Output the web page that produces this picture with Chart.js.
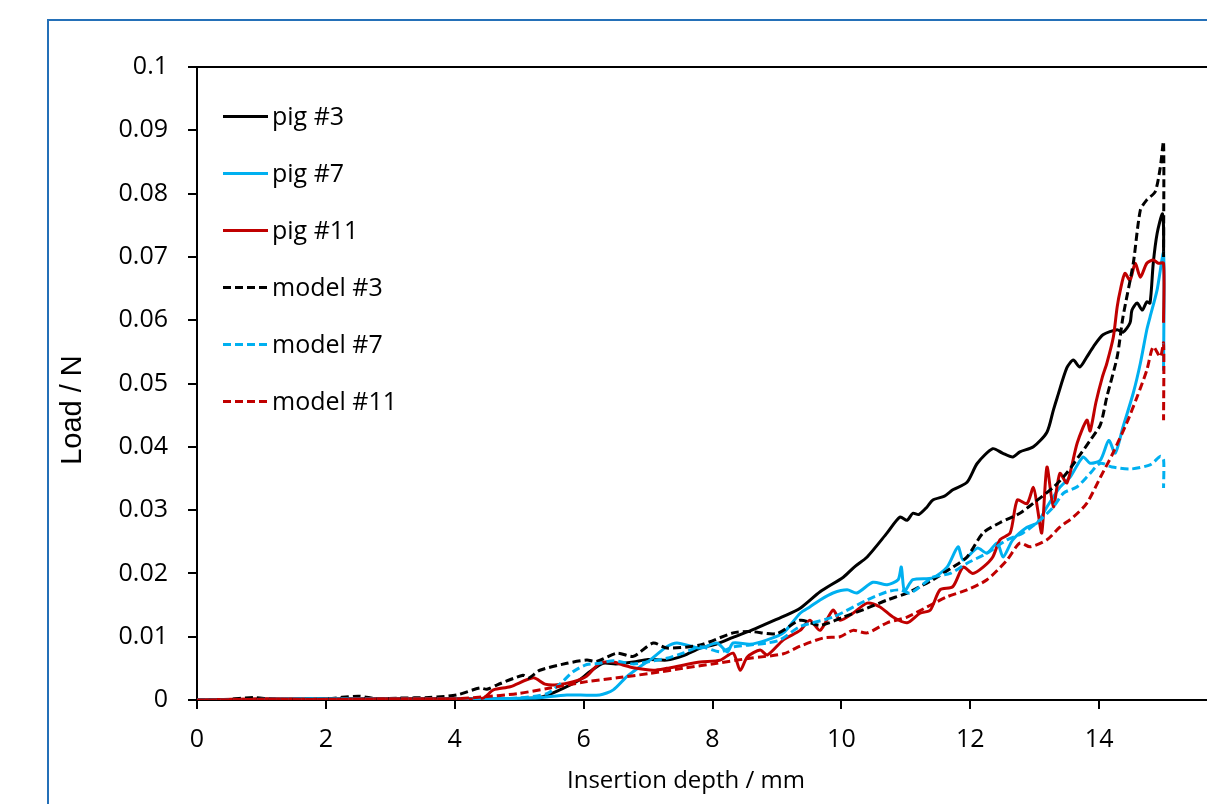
<!DOCTYPE html>
<html>
<head>
<meta charset="utf-8">
<script src="https://cdn.jsdelivr.net/npm/chart.js@4.4.1/dist/chart.umd.min.js"></script>
<style>
  html, body { margin: 0; padding: 0; background: #ffffff; overflow: hidden; width: 1207px; height: 804px; }
  #frame { position: absolute; left: 47px; top: 19px; width: 1400px; height: 1000px; border: 2px solid #2470B8; box-sizing: border-box; pointer-events: none; }
  #c { position: absolute; left: 0; top: 0; }
</style>
</head>
<body>
<div id="frame"></div>
<canvas id="c" width="1250" height="804"></canvas>
<script>
// ---- data (x = insertion depth / mm, y = load / N) ----
const seriesNames = ['pig #3', 'pig #7', 'pig #11', 'model #3', 'model #7', 'model #11'];

const pig3 = [[0,0],[1,0.0001],[2,0.0002],[3,0.0002],[4,0.0002],[4.8,0.0002],[5.32,0.0004],[5.63,0.0016],[5.94,0.0032],[6.1,0.0045],[6.3,0.0058],[6.5,0.0057],[6.77,0.006],[7.0,0.0064],[7.29,0.0063],[7.55,0.0070],[7.81,0.0082],[8.05,0.0088],[8.32,0.0099],[8.6,0.011],[8.85,0.0121],[9.1,0.0132],[9.36,0.0145],[9.67,0.0171],[10.03,0.0194],[10.2,0.021],[10.4,0.0226],[10.71,0.0264],[10.91,0.0289],[11.02,0.0284],[11.11,0.0295],[11.2,0.0293],[11.33,0.0305],[11.42,0.0316],[11.6,0.0322],[11.73,0.0332],[11.95,0.0344],[12.11,0.0374],[12.35,0.0397],[12.5,0.039],[12.66,0.0384],[12.77,0.0392],[12.98,0.040],[13.19,0.0423],[13.29,0.0458],[13.35,0.0478],[13.5,0.0525],[13.6,0.0537],[13.7,0.0526],[13.81,0.0542],[13.91,0.0558],[14.06,0.0577],[14.28,0.0585],[14.37,0.0581],[14.48,0.0596],[14.51,0.0616],[14.59,0.0627],[14.67,0.0616],[14.74,0.0629],[14.79,0.0627],[14.84,0.069],[14.9,0.0737],[14.98,0.0768],[15.0,0.0747],[15.0,0.0706]];

const pig7 = [[0,0],[1,0.0001],[2,0.0002],[3,0.0002],[4,0.0002],[5.2,0.0003],[5.74,0.0008],[6.25,0.0008],[6.46,0.0016],[6.67,0.0037],[6.88,0.0053],[7.03,0.0063],[7.29,0.0084],[7.45,0.009],[7.81,0.0082],[8.07,0.009],[8.23,0.0076],[8.32,0.009],[8.58,0.0088],[8.85,0.0095],[9.1,0.0106],[9.36,0.0137],[9.51,0.0147],[9.67,0.0158],[9.87,0.0169],[10.09,0.0174],[10.24,0.0169],[10.49,0.0186],[10.71,0.0182],[10.88,0.019],[10.93,0.021],[10.98,0.0172],[11.11,0.019],[11.42,0.0193],[11.64,0.021],[11.81,0.0242],[11.89,0.0221],[12.11,0.024],[12.26,0.0232],[12.42,0.0248],[12.51,0.0226],[12.66,0.0253],[12.88,0.0273],[13.04,0.028],[13.19,0.0305],[13.39,0.0336],[13.55,0.0352],[13.75,0.0384],[13.86,0.0374],[14.02,0.0379],[14.15,0.041],[14.25,0.039],[14.37,0.0431],[14.53,0.0485],[14.64,0.0532],[14.74,0.0585],[14.79,0.0605],[14.9,0.0648],[15.0,0.0706],[15.0,0.052]];

const pig11 = [[0,0],[1,0.0002],[2,0.0001],[3,0.0002],[4,0.0002],[4.44,0.0003],[4.6,0.0016],[4.86,0.0021],[5.22,0.0035],[5.4,0.0025],[5.59,0.0024],[5.84,0.0029],[6.05,0.0038],[6.25,0.0058],[6.46,0.006],[6.62,0.0055],[6.77,0.0051],[7.08,0.0047],[7.29,0.005],[7.54,0.0055],[7.81,0.006],[8.12,0.0063],[8.32,0.0074],[8.43,0.0047],[8.54,0.0068],[8.74,0.0079],[8.85,0.0071],[9.1,0.0095],[9.36,0.011],[9.51,0.0126],[9.67,0.011],[9.87,0.0142],[9.98,0.0126],[10.18,0.0137],[10.4,0.0153],[10.6,0.0147],[10.8,0.0131],[11.02,0.0122],[11.22,0.0137],[11.38,0.0142],[11.53,0.0174],[11.73,0.0179],[11.89,0.021],[12.04,0.02],[12.2,0.021],[12.35,0.0226],[12.46,0.0253],[12.62,0.0264],[12.73,0.0316],[12.88,0.031],[12.98,0.0336],[13.04,0.0305],[13.11,0.0264],[13.19,0.0368],[13.29,0.0305],[13.39,0.0358],[13.5,0.0343],[13.66,0.0406],[13.81,0.0442],[13.86,0.0425],[13.95,0.047],[14.05,0.051],[14.12,0.0532],[14.22,0.0573],[14.28,0.0621],[14.33,0.0648],[14.4,0.0674],[14.48,0.0663],[14.56,0.069],[14.64,0.0668],[14.74,0.069],[14.84,0.0695],[14.92,0.069],[15.0,0.069],[15.0,0.0596]];

const model3 = [[0,0],[0.5,0.0001],[0.87,0.0004],[1.2,0.0001],[2,0.0002],[2.5,0.0006],[2.8,0.0002],[3.15,0.0003],[3.6,0.0004],[4.03,0.0008],[4.39,0.0019],[4.5,0.0017],[4.66,0.0024],[5.06,0.0039],[5.15,0.0035],[5.32,0.0047],[5.74,0.0058],[6.05,0.0063],[6.2,0.0061],[6.52,0.0074],[6.77,0.0069],[7.08,0.009],[7.29,0.0082],[7.81,0.0087],[8.32,0.0106],[8.6,0.0108],[9.0,0.0105],[9.36,0.0126],[9.67,0.0118],[10.03,0.0131],[10.4,0.0145],[10.71,0.0158],[11.02,0.0169],[11.42,0.019],[11.73,0.021],[11.95,0.0226],[12.2,0.0264],[12.46,0.028],[12.77,0.0295],[12.98,0.0311],[13.29,0.0336],[13.5,0.0359],[13.7,0.0387],[13.86,0.041],[14.02,0.0435],[14.12,0.0479],[14.28,0.0542],[14.37,0.0605],[14.53,0.069],[14.64,0.0774],[14.74,0.079],[14.87,0.0803],[14.95,0.0842],[15.0,0.0882],[15.0,0.070]];

const model7 = [[0,0],[1,0.0001],[2,0.0002],[3,0.0002],[4,0.0002],[4.97,0.0003],[5.43,0.001],[5.63,0.0025],[5.84,0.0045],[6.05,0.0056],[6.25,0.0058],[6.46,0.0062],[6.77,0.0057],[6.98,0.006],[7.29,0.0066],[7.54,0.0074],[7.81,0.0084],[8.12,0.0076],[8.32,0.0084],[8.58,0.0087],[8.85,0.009],[9.05,0.0095],[9.36,0.0116],[9.87,0.0131],[10.4,0.0158],[10.71,0.0171],[10.91,0.0174],[11.07,0.0169],[11.42,0.0194],[11.69,0.02],[11.95,0.0216],[12.26,0.0232],[12.57,0.0253],[12.82,0.0264],[13.08,0.0284],[13.29,0.0305],[13.45,0.0327],[13.66,0.0337],[13.86,0.0358],[14.02,0.0374],[14.2,0.0368],[14.5,0.0365],[14.8,0.0372],[14.95,0.0385],[15.0,0.038],[15.0,0.0335]];

const model11 = [[0,0],[1,0.0001],[2,0.0001],[3,0.0002],[4,0.0002],[4.44,0.0005],[4.97,0.001],[5.48,0.0019],[6.05,0.0029],[6.52,0.0035],[7.03,0.0042],[7.54,0.005],[8.07,0.0058],[8.58,0.0066],[9.1,0.0073],[9.36,0.0085],[9.72,0.0098],[9.98,0.01],[10.18,0.011],[10.4,0.0106],[10.71,0.0122],[11.02,0.0131],[11.33,0.0147],[11.64,0.0163],[11.95,0.0174],[12.26,0.019],[12.57,0.0221],[12.77,0.0248],[12.93,0.0242],[13.19,0.0253],[13.39,0.0273],[13.6,0.0289],[13.81,0.0311],[14.02,0.0352],[14.2,0.0387],[14.43,0.0438],[14.59,0.0479],[14.74,0.0521],[14.84,0.0558],[14.95,0.0542],[15.0,0.0564],[15.0,0.0442]];

const seriesData = [pig3, pig7, pig11, model3, model7, model11];
const seriesColors = ['#000000', '#00B0F0', '#C00000', '#000000', '#00B0F0', '#C00000'];
const seriesDashed = [false, false, false, true, true, true];

const xAxisTitle = 'Insertion depth / mm';
const yAxisTitle = 'Load / N';
const xRange = [0, 16, 2];
const xLabelMax = 14;   // last labelled x tick that is inside the visible picture
const yRange = [0, 0.1, 0.01];

// ---- styling ----
const FONT = '"Open Sans", "Noto Sans", sans-serif';
const DASH = [8, 4];

const datasets = seriesData.map((pts, i) => ({
  label: seriesNames[i],
  data: pts.map(p => ({ x: p[0], y: p[1] })),
  borderColor: seriesColors[i],
  backgroundColor: seriesColors[i],
  borderWidth: 3,
  borderDash: seriesDashed[i] ? DASH : [],
  pointRadius: 0,
  tension: 0.25,
  fill: false,
  order: seriesData.length - 1 - i
}));

const framePlugin = {
  id: 'framePlugin',
  afterDatasetsDraw(chart) {
    const { ctx, chartArea: a } = chart;
    ctx.save();
    ctx.strokeStyle = '#000';
    ctx.lineWidth = 2;
    ctx.beginPath();
    ctx.moveTo(a.left, a.top);
    ctx.lineTo(a.right, a.top);
    ctx.lineTo(a.right, a.bottom);
    ctx.stroke();
    ctx.restore();
  },
  afterDraw(chart) {
    const { ctx, chartArea: a } = chart;
    ctx.save();
    // legend (inside plot area)
    const x0 = a.left + 26, x1 = a.left + 71, tx = a.left + 75;
    ctx.font = '25px ' + FONT;
    ctx.textBaseline = 'middle';
    ctx.textAlign = 'left';
    chart.data.datasets.forEach((ds, i) => {
      const y = a.top + 49.5 + i * 57;
      ctx.beginPath();
      ctx.strokeStyle = ds.borderColor;
      ctx.lineWidth = 3;
      ctx.setLineDash(ds.borderDash || []);
      ctx.moveTo(x0, y);
      ctx.lineTo(x1, y);
      ctx.stroke();
      ctx.setLineDash([]);
      ctx.fillStyle = '#000';
      ctx.fillText(ds.label, tx, y + 1);
    });
    // axis titles
    ctx.fillStyle = '#000';
    ctx.font = '24px ' + FONT;
    ctx.textAlign = 'center';
    ctx.textBaseline = 'middle';
    ctx.fillText(xAxisTitle, 686, 781);
    ctx.save();
    ctx.translate(73, 410);
    ctx.rotate(-Math.PI / 2);
    ctx.font = '29px "Liberation Sans", Arial, sans-serif';
    ctx.fillText(yAxisTitle, 0, 0);
    ctx.restore();
    ctx.restore();
  }
};

new Chart(document.getElementById('c'), {
  type: 'line',
  data: { datasets },
  options: {
    responsive: false,
    animation: false,
    events: [],
    layout: { padding: { left: 0, top: 67, right: 22, bottom: 0 } },
    plugins: { legend: { display: false }, tooltip: { enabled: false }, title: { display: false } },
    scales: {
      x: {
        type: 'linear',
        min: xRange[0], max: xRange[1],
        afterFit(s) { s.height = 104; s.paddingRight = 0; },
        ticks: {
          stepSize: xRange[2], color: '#000', font: { family: FONT, size: 25 }, padding: 16, maxRotation: 0, autoSkip: false,
          callback: v => (v <= xLabelMax ? String(v) : '')
        },
        grid: { drawOnChartArea: false, drawTicks: true, tickLength: 9, tickColor: '#000', lineWidth: 2 },
        border: { display: true, color: '#000', width: 2 }
      },
      y: {
        type: 'linear',
        min: yRange[0], max: yRange[1],
        afterFit(s) { s.width = 197; },
        ticks: {
          stepSize: yRange[2], color: '#000', font: { family: FONT, size: 25 }, padding: 20, autoSkip: false,
          callback: v => String(Number(v.toFixed(2)))
        },
        grid: { drawOnChartArea: false, drawTicks: true, tickLength: 9, tickColor: '#000', lineWidth: 2 },
        border: { display: true, color: '#000', width: 2 }
      }
    }
  },
  plugins: [framePlugin]
});
</script>
</body>
</html>
